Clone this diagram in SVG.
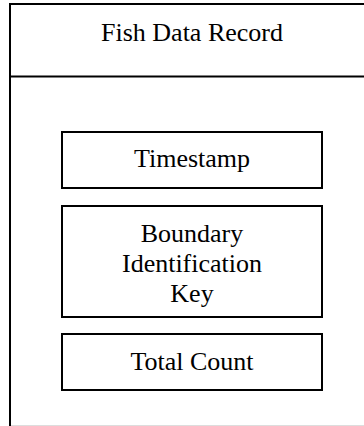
<svg xmlns="http://www.w3.org/2000/svg" width="364" height="426" viewBox="0 0 364 426">
  <style>
    .frame { fill: none; stroke: #000; stroke-width: 2; }
    .field { fill: #fff; stroke: #000; stroke-width: 2; }
    .label { font-family: "Liberation Serif", "Times New Roman", serif; font-size: 26px; fill: #000; text-anchor: middle; }
  </style>
  <rect width="364" height="426" fill="#fff"/>

  <!-- Record container: title band over a body that holds the fields -->
  <g id="record">
    <line class="frame" x1="10" y1="4" x2="364" y2="4"/>
    <line class="frame" x1="10" y1="3" x2="10" y2="426"/>
    <line class="frame" x1="10" y1="76.5" x2="364" y2="76.5"/>
    <line x1="11" y1="425.5" x2="364" y2="425.5" stroke="#ddd" stroke-width="1"/>
    <text class="label" x="192" y="41">Fish Data Record</text>
  </g>

  <g id="timestamp">
    <rect class="field" x="62" y="132" width="260" height="56"/>
    <text class="label" x="192" y="167">Timestamp</text>
  </g>

  <g id="boundary-key">
    <rect class="field" x="62" y="206" width="260" height="111"/>
    <text class="label" x="192" y="242">Boundary</text>
    <text class="label" x="192" y="272">Identification</text>
    <text class="label" x="192" y="302">Key</text>
  </g>

  <g id="total-count">
    <rect class="field" x="62" y="334" width="260" height="56"/>
    <text class="label" x="192" y="370">Total Count</text>
  </g>

  <g id="connectors"></g>
</svg>
